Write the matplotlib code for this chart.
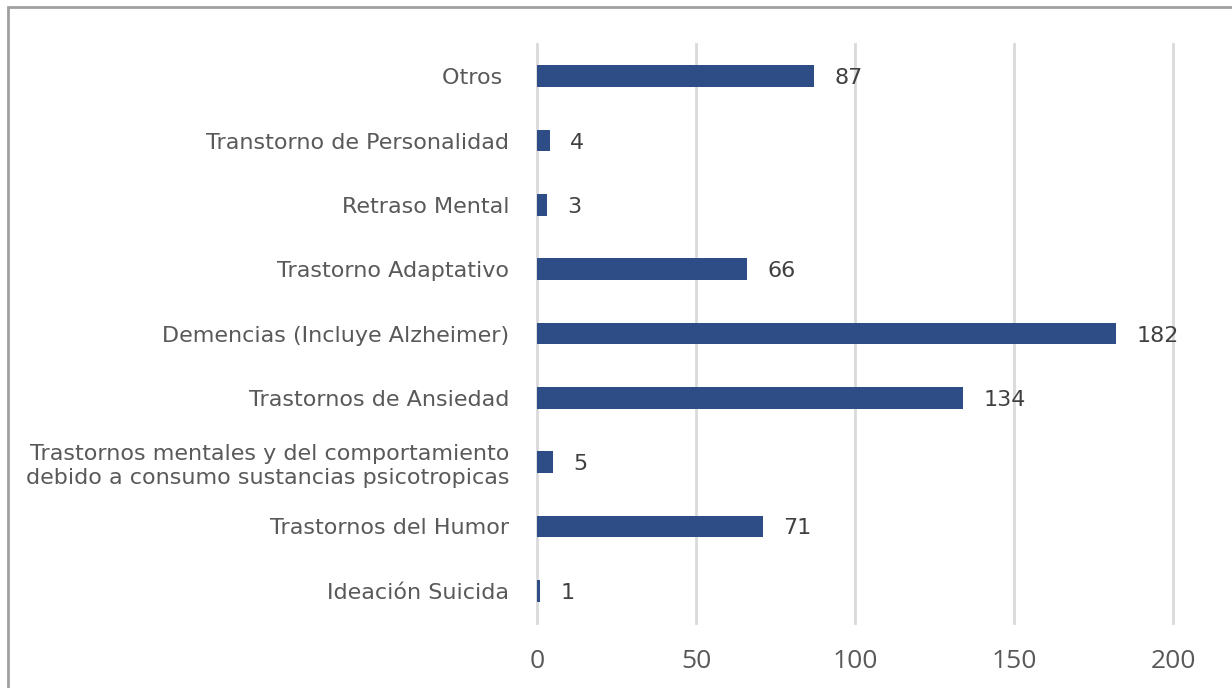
import matplotlib.pyplot as plt
from matplotlib.patches import Rectangle

categorias = [
    "Ideación Suicida",
    "Trastornos del Humor",
    "Trastornos mentales y del comportamiento\ndebido a consumo sustancias psicotropicas",
    "Trastornos de Ansiedad",
    "Demencias (Incluye Alzheimer)",
    "Trastorno Adaptativo",
    "Retraso Mental",
    "Transtorno de Personalidad",
    "Otros ",
]
valores = [1, 71, 5, 134, 182, 66, 3, 4, 87]
ticks_x = [0, 50, 100, 150, 200]

color_barra = "#2E4D87"
gris_texto = "#595959"

plt.rcParams['font.family'] = ['Open Sans', 'DejaVu Sans']

fig = plt.figure(figsize=(12.32, 6.88), dpi=100)
ax = fig.add_axes([0.4359, 0.0945, 0.5162, 0.8415])

pos = list(range(len(categorias)))
ax.barh(pos, valores, height=0.34, color=color_barra, zorder=3)

for p, v in zip(pos, valores):
    ax.text(v + 6.5, p, str(v), va='center_baseline', ha='left', fontsize=16,
            color="#404040", family='DejaVu Sans')

ax.set_xlim(0, 200)
ax.set_ylim(-0.5, len(categorias) - 0.5)
ax.set_xticks(ticks_x)
ax.set_yticks(pos)
ax.set_yticklabels(categorias, fontsize=16, color=gris_texto, linespacing=1.25,
                   family='DejaVu Sans')
ax.tick_params(axis='x', labelsize=19, colors=gris_texto, length=0, pad=19)
ax.tick_params(axis='y', length=0, pad=20)
ax.grid(axis='x', color="#D9D9D9", linewidth=2, zorder=0)
for gl in ax.get_xgridlines():
    gl.set_clip_on(False)
for s in ax.spines.values():
    s.set_visible(False)

# marco del gráfico
fig.patches.append(Rectangle((8 / 1232, -0.1), 1.2, 1 - 7 / 688 + 0.1,
                             transform=fig.transFigure, fill=False,
                             edgecolor="#A0A0A0", linewidth=2))

fig.savefig("out.png", dpi=100)
